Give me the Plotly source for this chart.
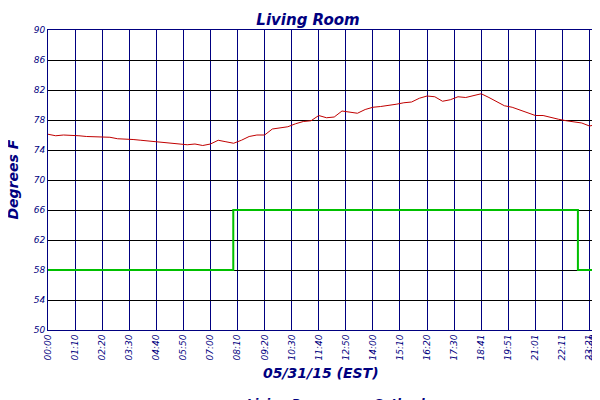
import plotly.graph_objects as go

minutes = list(range(0, 1401, 20)) + [1409]
living = [76.1, 75.9, 76.0, 76.0, 75.9, 75.8, 75.8, 75.7, 75.7, 75.5, 75.5, 75.4, 75.3, 75.2, 75.1,
          75.0, 74.8, 74.8, 74.7, 74.8, 74.6, 74.8, 75.3, 75.1, 74.9, 75.3, 75.8, 76.0, 76.0, 76.8,
          76.9, 77.1, 77.5, 77.8, 77.9, 78.6, 78.3, 78.4, 79.2, 79.0, 78.9, 79.4, 79.7, 79.8, 79.9,
          80.1, 80.3, 80.4, 80.9, 81.2, 81.1, 80.5, 80.7, 81.1, 81.0, 81.2, 81.5, 81.0, 80.5, 79.9,
          79.7, 79.3, 78.9, 78.6, 78.6, 78.3, 78.1, 77.9, 77.7, 77.6, 77.2, 77.3]
setback_x = [0, 479, 1370, 1409]
setback_y = [58, 66, 58, 58]
tick_minutes = list(range(0, 1401, 70)) + [1409]
tick_text = ["00:00", "01:10", "02:20", "03:30", "04:40", "05:50", "07:00", "08:10", "09:20", "10:30",
             "11:40", "12:50", "14:00", "15:10", "16:20", "17:30", "18:41", "19:51", "21:01", "22:11",
             "23:21", "23:29"]
y_ticks = list(range(50, 91, 4))

navy = "#000080"
fnt = dict(family="DejaVu Sans", color=navy, style="italic")

fig = go.Figure()
fig.add_trace(go.Scatter(x=minutes, y=living, mode="lines", name="Living Room",
                         line=dict(color="#c00000", width=1)))
fig.add_trace(go.Scatter(x=setback_x, y=setback_y, mode="lines", name="Setback",
                         line=dict(color="#00c000", width=2, shape="hv")))
fig.add_trace(go.Scatter(x=[0], y=[50], yaxis="y2", showlegend=False, hoverinfo="skip",
                         mode="markers", marker=dict(opacity=0)))

fig.update_layout(
    width=600, height=400, paper_bgcolor="white", plot_bgcolor="white",
    margin=dict(l=40, r=15, t=22, b=78, autoexpand=False),
    title=dict(text="<b>Living Room</b>", x=0.5, xanchor="center", y=0.985, yanchor="top",
               font=dict(size=15, **fnt)),
    xaxis=dict(range=[0, 1409], tickvals=tick_minutes, ticktext=tick_text, tickangle=-90,
               tickfont=dict(size=9, **fnt), showgrid=True, gridcolor=navy, gridwidth=1,
               showline=True, linecolor=navy, mirror=True, zeroline=False, ticks="",
               automargin=False),
    yaxis=dict(range=[50, 90], tickvals=y_ticks, tickfont=dict(size=9, **fnt), showgrid=True,
               gridcolor="black", showline=True, linecolor=navy, mirror=True, zeroline=False,
               ticks="", automargin=False),
    yaxis2=dict(range=[50, 90], tickvals=y_ticks, tickfont=dict(size=9, **fnt), overlaying="y",
                side="right", showgrid=False, zeroline=False, ticks="", automargin=False),
    annotations=[
        dict(text="<b>05/31/15 (EST)</b>", x=0.5, xref="paper", y=-0.143, yref="paper",
             yanchor="middle", showarrow=False, font=dict(size=14, **fnt)),
        dict(text="<b>Degrees F</b>", x=-0.065, xref="paper", y=0.5, yref="paper",
             textangle=-90, xanchor="center", showarrow=False, font=dict(size=14, **fnt)),
    ],
    legend=dict(orientation="h", x=0.5, xanchor="center", y=-0.195, yanchor="top",
                font=dict(size=12, family="DejaVu Sans", color=navy, style="italic", weight="bold")),
)
fig.write_html("out.html")
